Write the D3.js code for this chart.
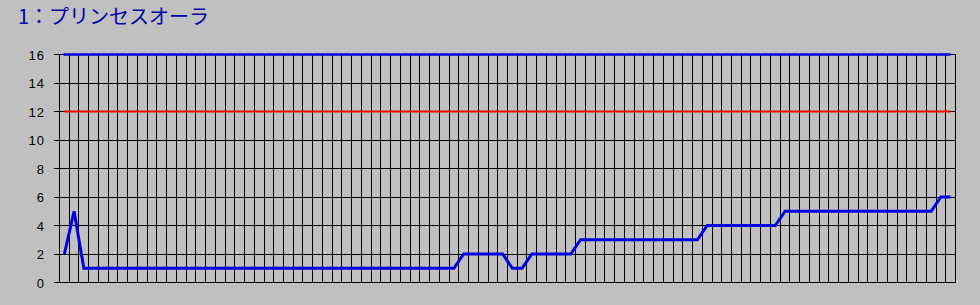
<!DOCTYPE html>
<html>
<head>
<meta charset="utf-8">
<script src="https://cdn.jsdelivr.net/npm/d3@7"></script>
<style>
  html, body { margin: 0; padding: 0; background: #c0c0c0; }
  svg { display: block; }
  .tick-label { font-family: "Liberation Sans", Arial, sans-serif; font-size: 13px; letter-spacing: 1px; fill: #000; }
  .title { font-family: "Noto Sans CJK JP", sans-serif; font-size: 20px; fill: #0000a8; }
</style>
</head>
<body>
<svg id="chart"></svg>
<script>
const width = 980, height = 305;
const title = "1：プリンセスオーラ";

// one entry per race (x categories)
const categories = [
  "1", "2", "3", "4", "5", "6", "7", "8", "9", "10",
  "11", "12", "13", "14", "15", "16", "17", "18", "19", "20",
  "21", "22", "23", "24", "25", "26", "27", "28", "29", "30",
  "31", "32", "33", "34", "35", "36", "37", "38", "39", "40",
  "41", "42", "43", "44", "45", "46", "47", "48", "49", "50",
  "51", "52", "53", "54", "55", "56", "57", "58", "59", "60",
  "61", "62", "63", "64", "65", "66", "67", "68", "69", "70",
  "71", "72", "73", "74", "75", "76", "77", "78", "79", "80",
  "81", "82", "83", "84", "85", "86", "87", "88", "89", "90",
  "91", "92"
];
const values = [
  2, 5, 1, 1, 1, 1, 1, 1, 1, 1,
  1, 1, 1, 1, 1, 1, 1, 1, 1, 1,
  1, 1, 1, 1, 1, 1, 1, 1, 1, 1,
  1, 1, 1, 1, 1, 1, 1, 1, 1, 1,
  1, 2, 2, 2, 2, 2, 1, 1, 2, 2,
  2, 2, 2, 3, 3, 3, 3, 3, 3, 3,
  3, 3, 3, 3, 3, 3, 4, 4, 4, 4,
  4, 4, 4, 4, 5, 5, 5, 5, 5, 5,
  5, 5, 5, 5, 5, 5, 5, 5, 5, 5,
  6, 6
];
const upperLimit = 16;
const warnLevel = 12;
const yTicks = [0, 2, 4, 6, 8, 10, 12, 14, 16];

const svg = d3.select("#chart").attr("width", width).attr("height", height);

const x = d3.scaleBand().domain(categories).range([59.5, 955.5]).paddingInner(0).paddingOuter(0);
const y = d3.scaleLinear().domain([0, 16]).range([282.5, 54.5]);
const cx = d => x(d) + x.bandwidth() / 2;

svg.append("text").attr("class", "title").attr("x", 18).attr("y", 24).text(title);

const grid = svg.append("g").attr("shape-rendering", "crispEdges");

// vertical grid at category boundaries
const bounds = categories.map(d => x(d)).concat([x.range()[1]]);
grid.selectAll("line.v")
  .data(bounds)
  .join("line")
  .attr("class", "v")
  .attr("x1", d => Math.round(d - 0.5) + 0.5).attr("x2", d => Math.round(d - 0.5) + 0.5)
  .attr("y1", y(16)).attr("y2", y(0))
  .attr("stroke", "#000").attr("stroke-width", 1);

// horizontal grid + ticks
grid.selectAll("line.h")
  .data(yTicks)
  .join("line")
  .attr("class", "h")
  .attr("x1", 54).attr("x2", x.range()[1])
  .attr("y1", d => Math.round(y(d) - 0.5) + 0.5).attr("y2", d => Math.round(y(d) - 0.5) + 0.5)
  .attr("stroke", "#000").attr("stroke-width", 1);

svg.selectAll("text.tick-label")
  .data(yTicks)
  .join("text")
  .attr("class", "tick-label")
  .attr("x", 45)
  .attr("y", d => y(d) + 5)
  .attr("text-anchor", "end")
  .text(d => d);

// reference levels
const first = categories[0], last = categories[categories.length - 1];
svg.append("line")
  .attr("x1", cx(first) - 1).attr("x2", cx(last))
  .attr("y1", y(upperLimit)).attr("y2", y(upperLimit))
  .attr("stroke", "#0000e0").attr("stroke-width", 2.5);
svg.append("line")
  .attr("x1", cx(first)).attr("x2", cx(last))
  .attr("y1", y(warnLevel)).attr("y2", y(warnLevel))
  .attr("stroke", "#f00000").attr("stroke-width", 2);

// main series
const line = d3.line().x((d, i) => cx(categories[i])).y(d => y(d));
svg.append("path")
  .datum(values)
  .attr("d", line)
  .attr("fill", "none")
  .attr("stroke", "#0000e0")
  .attr("stroke-width", 3);
</script>
</body>
</html>
